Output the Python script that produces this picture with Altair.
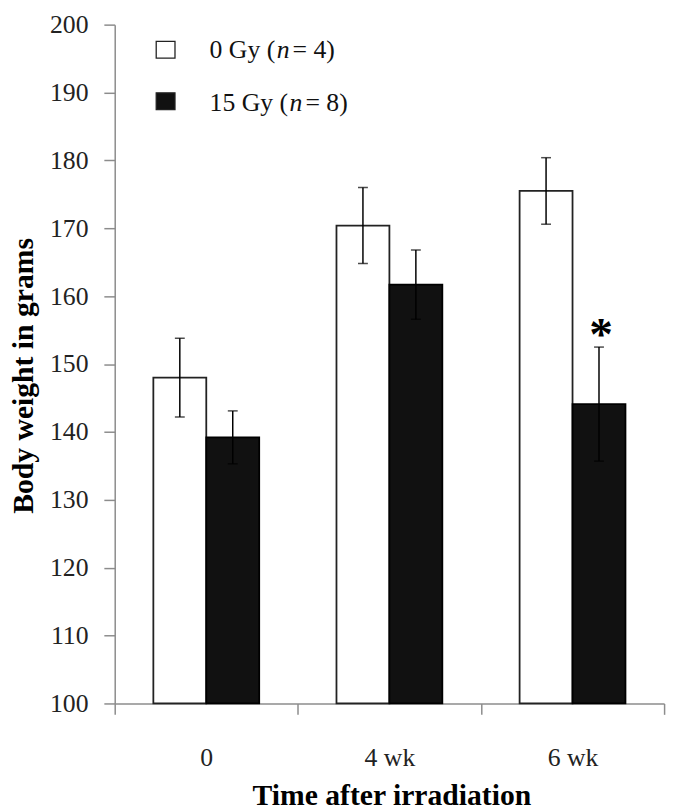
import altair as alt
import pandas as pd

# ---- data ----
times = ["0", "4 wk", "6 wk"]
groups = ["0 Gy", "15 Gy"]
mean_0gy = [148.0, 170.4, 175.5]
err_0gy = [5.8, 5.6, 4.9]
mean_15gy = [139.2, 161.7, 144.1]
err_15gy = [3.9, 5.1, 8.4]
y_ticks = [100, 110, 120, 130, 140, 150, 160, 170, 180, 190, 200]
significant = [("6 wk", "15 Gy")]

rows = []
for g, means, errs in [("0 Gy", mean_0gy, err_0gy), ("15 Gy", mean_15gy, err_15gy)]:
    for t, m, e in zip(times, means, errs):
        rows.append({"time": t, "group": g, "mean": m, "lo": m - e, "hi": m + e,
                     "sig": (t, g) in significant})
df = pd.DataFrame(rows)

FONT = "Liberation Serif"
AXIS_GREY = "#8c8c8c"

x_enc = alt.X(
    "time:N", sort=times,
    scale=alt.Scale(paddingInner=0, paddingOuter=0),
    axis=alt.Axis(
        labelAngle=0, tickBand="extent", grid=False,
        domainColor=AXIS_GREY, domainWidth=1.5,
        tickColor=AXIS_GREY, tickWidth=1.5, tickSize=11,
        labelFont=FONT, labelFontSize=26, labelColor="#222222", labelPadding=31,
        title="Time after irradiation", titleFont=FONT, titleFontSize=30,
        titleFontWeight="bold", titleColor="black", titleBaseline="alphabetic",
        titleAlign="center", titleX=280, titleY=102,
    ),
)
xoff = alt.XOffset("group:N", sort=groups,
                   scale=alt.Scale(paddingInner=0, paddingOuter=0.73))
y_scale = alt.Scale(domain=[100, 200], nice=False, zero=False)

base = alt.Chart(df)

bars = base.mark_bar(strokeWidth=1.8).encode(
    x=x_enc,
    xOffset=xoff,
    y=alt.Y(
        "mean:Q", scale=y_scale,
        axis=alt.Axis(
            values=y_ticks, grid=False,
            domainColor=AXIS_GREY, domainWidth=1.5,
            tickColor=AXIS_GREY, tickWidth=1.5, tickSize=11,
            labelFont=FONT, labelFontSize=26, labelColor="#222222", labelPadding=16,
            title="Body weight in grams", titleFont=FONT, titleFontSize=30,
            titleFontWeight="bold", titleColor="black", titleAngle=270,
            titleBaseline="alphabetic", titleAlign="center", titleX=-83, titleY=355,
        ),
    ),
    y2=alt.datum(100),
    color=alt.Color("group:N", scale=alt.Scale(domain=groups, range=["white", "#111111"]), legend=None),
    stroke=alt.Stroke("group:N", scale=alt.Scale(domain=groups, range=["#222222", "#000000"]), legend=None),
)

err_rule = base.mark_rule(color="black", strokeWidth=1.5).encode(
    x=x_enc, xOffset=xoff, y=alt.Y("lo:Q", scale=y_scale), y2="hi:Q"
)
cap_hi = base.mark_tick(color="black", thickness=1.5, size=10).encode(
    x=x_enc, xOffset=xoff, y=alt.Y("hi:Q", scale=y_scale)
)
cap_lo = base.mark_tick(color="black", thickness=1.5, size=10).encode(
    x=x_enc, xOffset=xoff, y=alt.Y("lo:Q", scale=y_scale)
)

star = base.transform_filter(alt.datum.sig).mark_text(
    text="*", font=FONT, fontSize=48, fontWeight="bold", color="black",
    baseline="alphabetic", align="center", dy=3, dx=2,
).encode(x=x_enc, xOffset=xoff, y=alt.Y("hi:Q", scale=y_scale))

# ---- legend (drawn by hand to keep italic n) ----
one = alt.Chart(pd.DataFrame({"k": [0]}))


def swatch(y0, fill):
    return one.mark_rect(fill=fill, stroke="#222222", strokeWidth=1.3).encode(
        x=alt.value(42), x2=alt.value(61), y=alt.value(y0), y2=alt.value(y0 + 17)
    )


def seg(txt, x, y, italic=False):
    return one.mark_text(
        text=txt, font=FONT, fontSize=26, fontStyle="italic" if italic else "normal",
        color="#111111", align="left", baseline="alphabetic",
    ).encode(x=alt.value(x), y=alt.value(y))


legend = [
    swatch(17, "white"), swatch(69, "#111111"),
    seg("0 Gy (", 96, 34), seg("n", 164, 34, True), seg("= 4)", 180, 34),
    seg("15 Gy (", 96, 87), seg("n", 177, 87, True), seg("= 8)", 193, 87),
]

chart = alt.layer(bars, err_rule, cap_hi, cap_lo, star, *legend).properties(
    width=556, height=687,
    autosize=alt.AutoSizeParams(type="none"),
    padding={"left": 108, "top": 12, "right": 8, "bottom": 104},
    background="white",
).configure_view(stroke=None).configure_axis(
    labelFont=FONT, labelFontSize=26, titleFont=FONT
)

chart.save("out.html", embed_options={"renderer": "svg", "actions": False})
